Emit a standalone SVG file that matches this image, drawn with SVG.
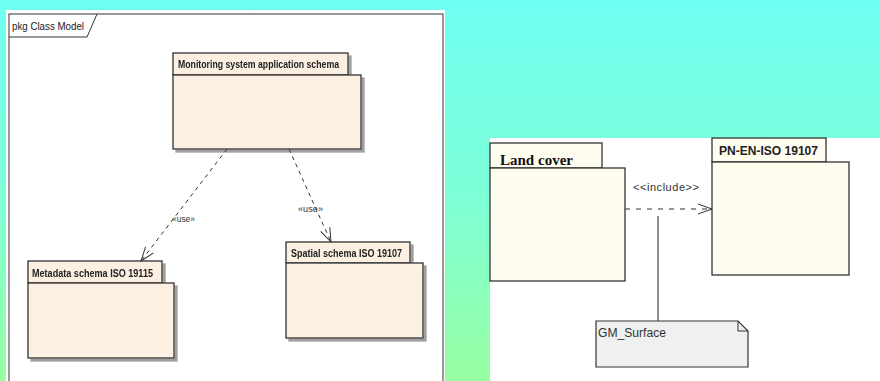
<svg xmlns="http://www.w3.org/2000/svg" width="880" height="381" viewBox="0 0 880 381">
<defs>
<linearGradient id="bg" x1="0" y1="0" x2="0" y2="1">
<stop offset="0" stop-color="#6ffff2"/>
<stop offset="0.5" stop-color="#7dffd8"/>
<stop offset="1" stop-color="#97ffa2"/>
</linearGradient>
<marker id="open" viewBox="0 0 16 12" refX="15" refY="6" markerWidth="16" markerHeight="12" markerUnits="userSpaceOnUse" orient="auto">
<path d="M1,1 L15,6 L1,11" fill="none" stroke="#333" stroke-width="1"/>
</marker>
<filter id="sh" x="-5%" y="-5%" width="115%" height="120%">
<feOffset dx="3" dy="3" in="SourceAlpha" result="o"/>
<feFlood flood-color="#a0a0a0"/>
<feComposite in2="o" operator="in" result="s"/>
<feMerge><feMergeNode in="s"/><feMergeNode in="SourceGraphic"/></feMerge>
</filter>
</defs>
<style>
.pkgL{fill:#fbf0e2;stroke:#333;stroke-width:1.3}
.pkgR{fill:#fffcf0;stroke:#333;stroke-width:1.3}
.lbl{font-family:"Liberation Sans",Arial,sans-serif;font-size:11px;fill:#222}
.lblb{font-family:"Liberation Sans",Arial,sans-serif;font-size:11px;font-weight:bold;fill:#222}
.dep{fill:none;stroke:#333;stroke-width:1;stroke-dasharray:4,4;marker-end:url(#open)}
.st{font-family:"Liberation Sans",Arial,sans-serif;font-size:9px;fill:#333}
</style>
<rect width="880" height="381" fill="url(#bg)"/>

<g id="left-panel">
<rect x="6" y="10" width="439" height="371" fill="#fff"/>
<rect x="9" y="14" width="434" height="380" fill="none" stroke="#555" stroke-width="1.2"/>
<path d="M9,37 L87,37 L97,14" fill="none" stroke="#333" stroke-width="1"/>
<text x="12" y="30" class="lbl" textLength="72" lengthAdjust="spacingAndGlyphs">pkg Class Model</text>
</g>

<g id="monitoring" filter="url(#sh)">
<rect x="173" y="53" width="175" height="22" class="pkgL"/>
<rect x="173" y="75" width="188" height="74" class="pkgL"/>
<text x="178" y="68" class="lblb" textLength="161" lengthAdjust="spacingAndGlyphs">Monitoring system application schema</text>
</g>

<g id="metadata" filter="url(#sh)">
<rect x="28" y="261" width="134" height="22" class="pkgL"/>
<rect x="28" y="283" width="146" height="75" class="pkgL"/>
<text x="32" y="277" class="lblb" textLength="121" lengthAdjust="spacingAndGlyphs">Metadata schema ISO 19115</text>
</g>

<g id="spatial" filter="url(#sh)">
<rect x="286" y="242" width="124" height="21" class="pkgL"/>
<rect x="286" y="263" width="137" height="75" class="pkgL"/>
<text x="291" y="257" class="lblb" textLength="111" lengthAdjust="spacingAndGlyphs">Spatial schema ISO 19107</text>
</g>

<g id="right-panel">
<rect x="490" y="138" width="390" height="243" fill="#fff"/>
</g>

<g id="landcover">
<rect x="490" y="143" width="112" height="25" class="pkgR"/>
<rect x="490" y="168" width="135" height="113" class="pkgR"/>
<text x="500" y="165" font-family="'Liberation Serif','DejaVu Serif',serif" font-size="15" font-weight="bold" fill="#111" textLength="73" lengthAdjust="spacingAndGlyphs">Land cover</text>
</g>

<g id="pnen">
<rect x="712" y="138" width="114" height="24" class="pkgR"/>
<rect x="712" y="162" width="137" height="113" class="pkgR"/>
<text x="719" y="155" font-family="'Liberation Sans',Arial,sans-serif" font-size="12" font-weight="bold" fill="#222" textLength="99" lengthAdjust="spacingAndGlyphs">PN-EN-ISO 19107</text>
</g>

<g id="gm-surface">
<path d="M596,321 L738,321 L748,331 L748,367 L596,367 Z" fill="#f0f0f0" stroke="#333" stroke-width="1.2"/>
<path d="M738,321 L738,331 L748,331" fill="none" stroke="#333" stroke-width="1"/>
<text x="598" y="337" font-family="'Liberation Sans',Arial,sans-serif" font-size="12" fill="#333" textLength="68" lengthAdjust="spacingAndGlyphs">GM_Surface</text>
</g>

<g id="connectors">
<line x1="227" y1="149" x2="141" y2="261" class="dep"/>
<text x="172" y="222" class="st" textLength="23" lengthAdjust="spacingAndGlyphs">«use»</text>
<line x1="289" y1="149" x2="331" y2="242" class="dep"/>
<text x="298" y="212" class="st" textLength="25" lengthAdjust="spacingAndGlyphs">«use»</text>
<line x1="625" y1="209" x2="712" y2="209" stroke="#333" stroke-width="1.2" stroke-dasharray="5,6" marker-end="url(#open)"/>
<text x="633" y="191" font-family="'Liberation Sans',Arial,sans-serif" font-size="11" fill="#333" textLength="66" lengthAdjust="spacing">&lt;&lt;include&gt;&gt;</text>
<line x1="658" y1="216" x2="658" y2="321" stroke="#444" stroke-width="1.2"/>
</g>
</svg>
